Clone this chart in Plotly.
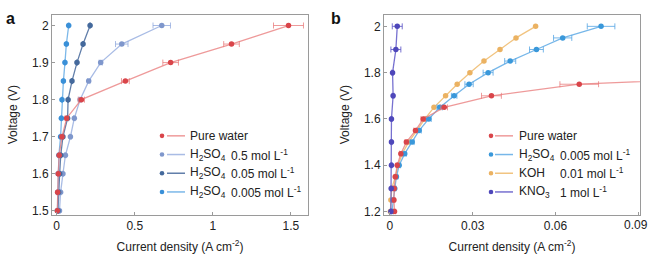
import plotly.graph_objects as go

# ---------------- data ----------------
# Panel a
volt_a = [1.5, 1.55, 1.6, 1.65, 1.7, 1.75, 1.8, 1.85, 1.9, 1.95, 2.0]
pure_a = [0.004, 0.006, 0.010, 0.016, 0.034, 0.064, 0.158, 0.44, 0.73, 1.12, 1.485]
pure_a_err = [0.003, 0.003, 0.004, 0.005, 0.008, 0.010, 0.020, 0.025, 0.05, 0.05, 0.096]
h2so4_05 = [0.018, 0.025, 0.040, 0.056, 0.088, 0.113, 0.150, 0.205, 0.282, 0.417, 0.673]
h2so4_05_err = [0.003, 0.003, 0.004, 0.004, 0.005, 0.005, 0.006, 0.008, 0.010, 0.040, 0.056]
h2so4_005 = [0.008, 0.012, 0.019, 0.026, 0.040, 0.070, 0.073, 0.098, 0.130, 0.169, 0.214]
h2so4_005_err = [0.003] * 11
h2so4_0005 = [0.005, 0.007, 0.010, 0.014, 0.025, 0.030, 0.034, 0.043, 0.053, 0.062, 0.077]
h2so4_0005_err = [0.003] * 11

# Panel b
volt_b = [1.2, 1.25, 1.3, 1.35, 1.4, 1.45, 1.5, 1.55, 1.6, 1.65, 1.7, 1.75, 1.8, 1.85,
          1.9, 1.95, 2.0]
volt_b_pure = [1.2, 1.25, 1.3, 1.35, 1.4, 1.45, 1.5, 1.55, 1.6, 1.65, 1.7, 1.75, 1.8]
pure_b = [0.0017, 0.0015, 0.0016, 0.0020, 0.0027, 0.0040, 0.0060, 0.0093, 0.0121, 0.0197,
          0.0368, 0.0686, 0.164]
pure_b_err = [0.0004, 0.0004, 0.0004, 0.0004, 0.0004, 0.0005, 0.0005, 0.0006, 0.0008,
              0.0012, 0.0036, 0.0070, 0.0100]
h2so4_b = [0.0008, 0.0012, 0.0018, 0.0024, 0.0034, 0.0054, 0.0081, 0.0106, 0.0141, 0.0181,
           0.0233, 0.0287, 0.0356, 0.0436, 0.0531, 0.0626, 0.0765]
h2so4_b_err = [0.0004, 0.0004, 0.0004, 0.0005, 0.0005, 0.0006, 0.0007, 0.0008, 0.0009, 0.0010,
               0.0010, 0.0015, 0.0018, 0.0020, 0.0025, 0.0033, 0.0050]
koh_b = [0.0002, 0.0004, 0.0007, 0.0020, 0.0030, 0.0045, 0.0068, 0.0098, 0.0127, 0.0160,
         0.0202, 0.0244, 0.0290, 0.0341, 0.0399, 0.0457, 0.0528]
volt_b_kno3 = [1.2, 1.3, 1.4, 1.5, 1.6, 1.7, 1.8, 1.9, 2.0]
kno3_b = [0.0004, 0.0005, 0.0006, 0.0006, 0.0006, 0.0012, 0.0010, 0.0022, 0.0027]
kno3_b_err = [0.0002, 0.0002, 0.0002, 0.0002, 0.0002, 0.0003, 0.0003, 0.0018, 0.0018]

xticks_a = [0, 0.5, 1, 1.5]
xtlabels_a = ["0", "0.5", "1", "1.5"]
yticks_a = [1.5, 1.6, 1.7, 1.8, 1.9, 2.0]
ytlabels_a = ["1.5", "1.6", "1.7", "1.8", "1.9", "2"]
xticks_b = [0, 0.03, 0.06, 0.09]
xtlabels_b = ["0", "0.03", "0.06", "0.09"]
yticks_b = [1.2, 1.4, 1.6, 1.8, 2.0]
ytlabels_b = ["1.2", "1.4", "1.6", "1.8", "2"]

legend_a = [("Pure water", ""),
            ("H<sub>2</sub>SO<sub>4</sub>", "0.5 mol L<sup>-1</sup>"),
            ("H<sub>2</sub>SO<sub>4</sub>", "0.05 mol L<sup>-1</sup>"),
            ("H<sub>2</sub>SO<sub>4</sub>", "0.005 mol L<sup>-1</sup>")]
legend_b = [("Pure water", ""),
            ("H<sub>2</sub>SO<sub>4</sub>", "0.005 mol L<sup>-1</sup>"),
            ("KOH", "0.01 mol L<sup>-1</sup>"),
            ("KNO<sub>3</sub>", "1 mol L<sup>-1</sup>")]

# ---------------- styles ----------------
RED = ("#d9454a", "rgba(232,120,120,0.75)")
LAV = ("#7f97cc", "rgba(140,165,220,0.75)")
DARK = ("#44699c", "rgba(70,105,155,0.85)")
BLUE = ("#3a90d8", "rgba(80,160,225,0.75)")
BLUE_B = ("#3a98da", "rgba(85,165,228,0.8)")
ORANGE = ("#ebb262", "rgba(240,190,115,0.9)")
PURPLE = ("#4e47ba", "rgba(95,88,200,0.85)")

W, H = 650, 255
FONT = "Liberation Sans, Arial, sans-serif"
FS = 12

fig = go.Figure()


def add(x, y, err, col, xa, ya):
    ex = None
    if err is not None:
        ex = dict(type="data", array=err, color=col[1], thickness=1, width=3)
    fig.add_trace(go.Scatter(
        x=x, y=y, mode="lines+markers", xaxis=xa, yaxis=ya, error_x=ex,
        line=dict(color=col[1], width=1.3),
        marker=dict(color=col[0], size=5.5), showlegend=False, cliponaxis=True))


add(h2so4_05, volt_a, h2so4_05_err, LAV, "x", "y")
add(h2so4_005, volt_a, h2so4_005_err, DARK, "x", "y")
add(h2so4_0005, volt_a, h2so4_0005_err, BLUE, "x", "y")
add(pure_a, volt_a, pure_a_err, RED, "x", "y")

add(koh_b, volt_b, None, ORANGE, "x2", "y2")
add(h2so4_b, volt_b, h2so4_b_err, BLUE_B, "x2", "y2")
add(pure_b, volt_b_pure, pure_b_err, RED, "x2", "y2")
add(kno3_b, volt_b_kno3, kno3_b_err, PURPLE, "x2", "y2")

axis_common = dict(showline=True, linecolor="#9a9a9a", linewidth=1, mirror=True,
                   ticks="inside", ticklen=3, tickcolor="#9a9a9a", showgrid=False,
                   zeroline=False, tickfont=dict(family=FONT, size=FS, color="#222"),
                   title_font=dict(family=FONT, size=FS, color="#222"))

# the last x tick label of panel b sits on the page edge: draw it as a right-anchored text
xtlabels_b_axis = xtlabels_b[:-1] + [""]

fig.update_layout(
    width=W, height=H, margin=dict(l=0, r=0, t=0, b=0),
    paper_bgcolor="white", plot_bgcolor="white",
    xaxis=dict(domain=[52 / W, 308 / W], range=[-0.03, 1.61], anchor="y",
               tickvals=xticks_a, ticktext=xtlabels_a,
               title=dict(text="Current density (A cm<sup>-2</sup>)", standoff=10),
               **axis_common),
    yaxis=dict(domain=[1 - 218 / H, 1 - 15 / H], range=[1.49, 2.029], anchor="x",
               tickvals=yticks_a, ticktext=ytlabels_a,
               title=dict(text="Voltage (V)", standoff=11), **axis_common),
    xaxis2=dict(domain=[384 / W, 640 / W], range=[-0.0021, 0.0906], anchor="y2",
                tickvals=xticks_b, ticktext=xtlabels_b_axis,
                title=dict(text="Current density (A cm<sup>-2</sup>)", standoff=10),
                **axis_common),
    yaxis2=dict(domain=[1 - 218 / H, 1 - 15 / H], range=[1.187, 2.05], anchor="x2",
                tickvals=yticks_b, ticktext=ytlabels_b,
                title=dict(text="Voltage (V)", standoff=11), **axis_common),
)

fig.add_annotation(text=xtlabels_b[-1], x=1, y=1 - 229 / H, xref="paper", yref="paper",
                   xanchor="right", yanchor="middle", showarrow=False,
                   font=dict(family=FONT, size=FS, color="#222"))

# panel labels
fig.add_annotation(text="<b>a</b>", x=4 / W, y=1 - 8 / H, xref="paper", yref="paper",
                   showarrow=False, font=dict(family=FONT, size=16, color="#111"))
fig.add_annotation(text="<b>b</b>", x=336 / W, y=1 - 8 / H, xref="paper", yref="paper",
                   showarrow=False, font=dict(family=FONT, size=16, color="#111"))


def legend(entries, cols, dot_x, line_x0, line_x1, text_x, val_x, rows):
    for (name, val), col, ry in zip(entries, cols, rows):
        yp = 1 - ry / H
        fig.add_shape(type="line", xref="paper", yref="paper", x0=line_x0 / W, x1=line_x1 / W,
                      y0=yp, y1=yp, line=dict(color=col[1], width=1.5))
        fig.add_shape(type="circle", xref="paper", yref="paper", xsizemode="pixel",
                      ysizemode="pixel", xanchor=dot_x / W, yanchor=yp, x0=-2.3, x1=2.3,
                      y0=-2.3, y1=2.3, fillcolor=col[0], line=dict(width=0))
        fig.add_annotation(text=name, x=text_x / W, y=yp, xref="paper", yref="paper",
                           xanchor="left", yanchor="middle", showarrow=False,
                           font=dict(family=FONT, size=FS, color="#222"))
        if val:
            fig.add_annotation(text=val, x=val_x / W, y=yp, xref="paper", yref="paper",
                               xanchor="left", yanchor="middle", showarrow=False,
                               font=dict(family=FONT, size=FS, color="#222"))


legend(legend_a, [RED, LAV, DARK, BLUE], 162, 167, 185, 188, 229, [138, 157, 176, 195])
legend(legend_b, [RED, BLUE_B, ORANGE, PURPLE], 491, 495, 513, 517, 558, [138, 157, 176, 195])

fig.write_html("out.html")
